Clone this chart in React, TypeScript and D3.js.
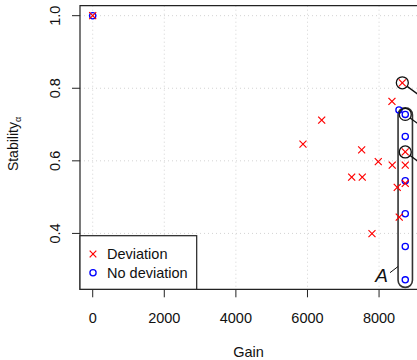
import React from "react";
import * as d3 from "d3";

const devGain = [0, 8650, 8360, 6397, 5874, 7514, 7978, 8369, 8732, 8732, 7235, 7531, 8732, 8508, 8564, 7802];
const devStab = [1.0, 0.815, 0.764, 0.712, 0.646, 0.63, 0.598, 0.588, 0.588, 0.6245, 0.555, 0.555, 0.538, 0.527, 0.445, 0.3995];

const noDevGain = [0, 8556, 8732, 8732, 8732, 8732, 8732, 8732];
const noDevStab = [1.0, 0.74, 0.728, 0.667, 0.545, 0.454, 0.364, 0.272];

const xTicks = [0, 2000, 4000, 6000, 8000];
const yTicks = [0.4, 0.6, 0.8, 1.0];

const highlightGain = [8650, 8732, 8732];
const highlightStab = [0.815, 0.728, 0.6245];

const groupGain = 8732;
const groupLow = 0.272;
const groupHigh = 0.728;
const groupLabel = "A";

const legendLabels = ["Deviation", "No deviation"];

const W = 417;
const H = 360;
const L = 80, R = 417, T = 5.7, B = 289.3;
const FONT = "'Liberation Sans', Arial, Helvetica, sans-serif";

export default function App() {
  const x = d3.scaleLinear().domain([-355, 9060]).range([L, R]);
  const y = d3.scaleLinear().domain([0.246, 1.0275]).range([B, T]);
  const cross = (cx: number, cy: number, k: string, s = 3.5) => (
    <g key={k} stroke="#ff0000" strokeWidth={1.2}>
      <line x1={cx - s} y1={cy - s} x2={cx + s} y2={cy + s} />
      <line x1={cx - s} y1={cy + s} x2={cx + s} y2={cy - s} />
    </g>
  );
  const gx = x(groupGain);
  const gTop = y(groupHigh) - 6.5;
  const gBot = y(groupLow) + 7.5;
  return (
    <svg width={W} height={H} style={{ position: "absolute", left: 0, top: 0 }} fontFamily={FONT}>
      <rect x={0} y={0} width={W} height={H} fill="#fff" />
      <defs>
        <clipPath id="plot">
          <rect x={L} y={T} width={R - L + 20} height={B - T} />
        </clipPath>
      </defs>
      {/* grid */}
      {xTicks.map((t) => (
        <line key={"gx" + t} x1={x(t)} x2={x(t)} y1={T} y2={B} stroke="#d3d3d3" strokeDasharray="1,3" />
      ))}
      {yTicks.map((t) => (
        <line key={"gy" + t} x1={L} x2={R} y1={y(t)} y2={y(t)} stroke="#d3d3d3" strokeDasharray="1,3" />
      ))}
      {/* frame */}
      <path d={`M${R + 5},${T}H${L}V${B}H${R + 5}`} fill="none" stroke="#222" strokeWidth={1.2} />
      {/* ticks */}
      {xTicks.map((t) => (
        <g key={"tx" + t}>
          <line x1={x(t)} x2={x(t)} y1={B} y2={B + 8} stroke="#222" strokeWidth={1} />
          <text x={x(t)} y={323} textAnchor="middle" fontSize={14.5} fill="#111">
            {t}
          </text>
        </g>
      ))}
      {yTicks.map((t) => (
        <g key={"ty" + t}>
          <line x1={L} x2={L - 8} y1={y(t)} y2={y(t)} stroke="#222" strokeWidth={1} />
          <text transform={`translate(60,${y(t)}) rotate(-90)`} textAnchor="middle" fontSize={14.5} fill="#111">
            {t.toFixed(1)}
          </text>
        </g>
      ))}
      <text x={(L + R) / 2} y={357} textAnchor="middle" fontSize={14.5} fill="#111">
        Gain
      </text>
      <text transform={`translate(18,${144}) rotate(-90)`} textAnchor="middle" fontSize={14} fill="#111">
        Stability
        <tspan fontSize={9} dy={3}>α</tspan>
      </text>
      <g clipPath="url(#plot)">
        {/* group box */}
        <rect x={gx - 7.2} y={gTop} width={14.4} height={gBot - gTop} rx={7} ry={7} fill="none" stroke="#333" strokeWidth={1.6} />
        {/* points */}
        {noDevGain.map((g, i) => (
          <circle key={"c" + i} cx={x(g)} cy={y(noDevStab[i])} r={3.1} fill="none" stroke="#0000ff" strokeWidth={1.3} />
        ))}
        {devGain.map((g, i) => cross(x(g), y(devStab[i]), "x" + i))}
        {/* highlights */}
        {highlightGain.map((g, i) => {
          const cx = x(g), cy = y(highlightStab[i]);
          const r = 6;
          const dx = 0.806, dy = 0.592;
          return (
            <g key={"h" + i} stroke="#111" fill="none" strokeWidth={1.3}>
              <circle cx={cx} cy={cy} r={r} />
              <line x1={cx + r * dx} y1={cy + r * dy} x2={cx + 30 * dx} y2={cy + 30 * dy} />
            </g>
          );
        })}
        {/* group label */}
        <line x1={390} y1={272.7} x2={gx - 7.2} y2={266.5} stroke="#111" strokeWidth={1} />
        <text x={381.5} y={282} textAnchor="middle" fontSize={19} fontStyle="italic" fill="#111">
          {groupLabel}
        </text>
      </g>
      {/* legend */}
      <rect x={L} y={235.7} width={116.7} height={B - 235.7} fill="#fff" stroke="#222" strokeWidth={1.2} />
      {cross(93, 254, "lx", 3.3)}
      <circle cx={93} cy={272.7} r={3.1} fill="none" stroke="#0000ff" strokeWidth={1.3} />
      <text x={107} y={254} dy="0.35em" fontSize={14.5} fill="#111">{legendLabels[0]}</text>
      <text x={107} y={272.7} dy="0.35em" fontSize={14.5} fill="#111">{legendLabels[1]}</text>
    </svg>
  );
}
